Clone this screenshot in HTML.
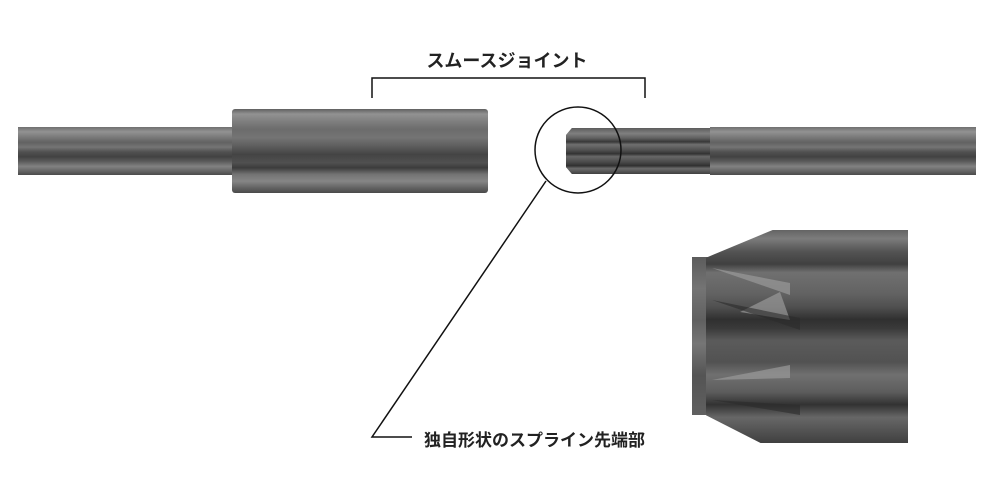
<!DOCTYPE html>
<html><head><meta charset="utf-8"><style>
html,body{margin:0;padding:0;background:#fff;}
body{width:1000px;height:500px;position:relative;overflow:hidden;font-family:"Liberation Sans","Noto Sans CJK JP",sans-serif;}
.a{position:absolute;}
.shaft{background:linear-gradient(180deg,#707070 0%,#929292 10%,#787878 22%,#626262 32%,#747474 42%,#505050 52%,#424242 62%,#5c5c5c 72%,#828282 82%,#646464 92%,#4a4a4a 100%);}
.collar{background:linear-gradient(180deg,#606060 0%,#929292 6%,#808080 14%,#6c6c6c 24%,#747474 34%,#5e5e5e 44%,#444 54%,#505050 64%,#3c3c3c 70%,#747474 78%,#868686 86%,#626262 94%,#4a4a4a 100%);border-radius:3px;}
.spline{background:linear-gradient(180deg,#5c5c5c 0%,#808080 12%,#606060 22%,#383838 30%,#707070 36%,#505050 48%,#333 56%,#686868 62%,#4a4a4a 74%,#303030 82%,#6c6c6c 88%,#404040 100%);}
.txt{font-weight:bold;font-size:17px;color:#222;}
</style></head><body>
<div class="a shaft" style="left:18px;top:127px;width:216px;height:48px;"></div>
<div class="a collar" style="left:232px;top:109px;width:256px;height:84px;"></div>
<div class="a spline" style="left:566px;top:128px;width:146px;height:46px;clip-path:polygon(4% 0,100% 0,100% 100%,4% 100%,0 85%,0 15%);"></div>
<div class="a shaft" style="left:710px;top:127px;width:266px;height:48px;"></div>

<div class="a" style="left:692px;top:257px;width:16px;height:158px;background:linear-gradient(180deg,#5c5c5c,#747474 20%,#606060 40%,#767676 55%,#545454 75%,#606060 100%);"></div>
<div class="a" style="left:706px;top:230px;width:202px;height:213px;background:linear-gradient(180deg,#646464 0%,#7c7c7c 4%,#545454 10%,#404040 16%,#707070 20%,#626262 30%,#505050 36%,#303030 42%,#393939 46%,#5b5b5b 52%,#525252 62%,#707070 68%,#5d5d5d 76%,#323232 82%,#676767 88%,#4d4d4d 96%,#404040 100%);clip-path:polygon(33% 0,100% 0,100% 100%,27% 100%,0 87%,0 13%);"></div>
<svg class="a" style="left:0;top:0" width="1000" height="500">
<g fill="#9a9a9a" opacity="0.7">
<polygon points="712,268 790,283 790,295"/>
<polygon points="712,380 790,365 790,378"/>
<polygon points="740,312 780,292 790,320"/>
</g>
<g fill="#2c2c2c" opacity="0.6">
<polygon points="712,300 800,318 800,330"/>
<polygon points="712,400 800,405 800,415"/>
</g>
<circle cx="578" cy="150" r="43" fill="none" stroke="#111" stroke-width="1.5"/>
<polyline points="546,181 372,437 412,437" fill="none" stroke="#111" stroke-width="1.5"/>
<polyline points="372,98 372,78 645,78 645,98" fill="none" stroke="#111" stroke-width="1.5"/>
</svg>
<div class="a txt" style="left:418px;top:47px;width:178px;text-align:center;font-size:18px;">スムースジョイント</div>
<div class="a txt" style="left:424px;top:426px;white-space:nowrap;">独自形状のスプライン先端部</div>
</body></html>
